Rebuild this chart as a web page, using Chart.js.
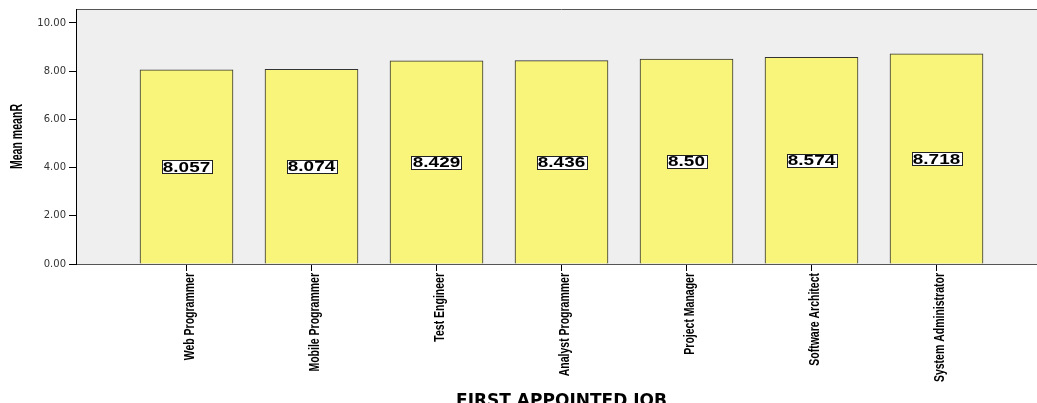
<!DOCTYPE html>
<html>
<head>
<meta charset="utf-8">
<script src="https://cdn.jsdelivr.net/npm/chart.js@4"></script>
<style>
  html, body { margin: 0; padding: 0; background: #fff; overflow: hidden; }
  canvas { display: block; }
</style>
</head>
<body>
<canvas id="mean-chart" width="1050" height="410"></canvas>
<script>
const jobs = ['Web Programmer', 'Mobile Programmer', 'Test Engineer', 'Analyst Programmer',
    'Project Manager', 'Software Architect', 'System Administrator'];
const meanR = [8.057, 8.074, 8.429, 8.436, 8.50, 8.574, 8.718];
const meanLabels = ['8.057', '8.074', '8.429', '8.436', '8.50', '8.574', '8.718'];
const yTicks = [0, 2, 4, 6, 8, 10];
const yTitle = 'Mean meanR';

const family = '"Liberation Sans", Arial, sans-serif';

// grey plot background plus the thin frame line on top
const plotBackground = {
    id: 'plotBackground',
    beforeDraw(chart) {
        const { ctx, chartArea: a } = chart;
        ctx.save();
        ctx.fillStyle = '#efefef';
        ctx.fillRect(a.left, a.top, a.right - a.left, a.bottom - a.top);
        ctx.strokeStyle = '#555';
        ctx.lineWidth = 1;
        ctx.beginPath();
        ctx.moveTo(a.left, a.top + 0.5);
        ctx.lineTo(a.right, a.top + 0.5);
        ctx.stroke();
        ctx.restore();
    }
};

// boxed value labels in the middle of each bar
const boxedLabels = {
    id: 'boxedLabels',
    afterDatasetsDraw(chart) {
        const { ctx } = chart;
        const meta = chart.getDatasetMeta(0);
        const stretch = 1.35;
        ctx.save();
        ctx.font = 'bold 14px ' + family;
        meta.data.forEach((bar, i) => {
            const text = meanLabels[i];
            const cx = bar.x;
            const cy = (bar.y + bar.base) / 2;
            const w = Math.round(ctx.measureText(text).width * stretch) + 3, h = 13;
            const left = Math.round(cx - w / 2) + 0.5;
            const top = Math.round(cy - h / 2) + 0.5;
            ctx.fillStyle = '#fff';
            ctx.fillRect(left, top, w, h);
            ctx.strokeStyle = '#222';
            ctx.lineWidth = 1;
            ctx.strokeRect(left, top, w, h);
            ctx.save();
            ctx.translate(cx, cy + 1);
            ctx.scale(stretch, 1);
            ctx.fillStyle = '#000';
            ctx.textAlign = 'center';
            ctx.textBaseline = 'middle';
            ctx.fillText(text, 0, 0);
            ctx.restore();
        });
        ctx.restore();
    }
};

// narrow rotated texts (category names and y title), SPSS look
const narrowTexts = {
    id: 'narrowTexts',
    afterDraw(chart) {
        const { ctx, chartArea: a } = chart;
        const xScale = chart.scales.x;
        ctx.save();
        ctx.fillStyle = '#000';
        ctx.textBaseline = 'middle';
        ctx.font = 'bold 15px ' + family;
        jobs.forEach((job, i) => {
            ctx.save();
            ctx.translate(xScale.getPixelForValue(i) + 3, a.bottom + 9);
            ctx.rotate(-Math.PI / 2);
            ctx.scale(0.7, 1);
            ctx.textAlign = 'right';
            ctx.fillText(job, 0, 0);
            ctx.restore();
        });
        ctx.font = 'bold 16px ' + family;
        ctx.save();
        ctx.translate(18, (a.top + a.bottom) / 2);
        ctx.rotate(-Math.PI / 2);
        ctx.scale(0.66, 1);
        ctx.textAlign = 'center';
        ctx.fillText(yTitle, 0, 0);
        ctx.restore();
        ctx.restore();
    }
};

new Chart(document.getElementById('mean-chart'), {
    type: 'bar',
    data: {
        datasets: [{
            data: meanR.map((v, i) => ({ x: i, y: v })),
            backgroundColor: '#f9f47a',
            borderColor: '#333',
            borderWidth: 1,
            barThickness: 93,
            grouped: false
        }]
    },
    options: {
        responsive: false,
        animation: false,
        devicePixelRatio: 1,
        layout: { padding: { top: 8, right: 3, bottom: 0, left: 0 } },
        plugins: {
            legend: { display: false },
            tooltip: { enabled: false }
        },
        scales: {
            x: {
                type: 'linear',
                offset: false,
                min: -0.884,
                max: 6.884,
                afterBuildTicks: scale => { scale.ticks = jobs.map((_, i) => ({ value: i })); },
                afterFit: scale => { scale.height = 146; },
                grid: { offset: false, drawOnChartArea: false, drawTicks: true, tickLength: 7, color: '#000' },
                border: { display: true, color: '#555' },
                ticks: { display: false },
                title: {
                    display: true,
                    text: 'FIRST APPOINTED JOB',
                    color: '#000',
                    font: { family: "'DejaVu Sans', sans-serif", size: 17, weight: 'bold' },
                    padding: { top: 0, bottom: -2 }
                }
            },
            y: {
                min: 0,
                max: 10.58,
                afterBuildTicks: scale => { scale.ticks = yTicks.map(v => ({ value: v })); },
                afterFit: scale => { scale.width = 76; },
                grid: { drawOnChartArea: false, drawTicks: true, tickLength: 7, color: '#000' },
                border: { display: true, color: '#000' },
                ticks: {
                    padding: 3,
                    color: '#333',
                    font: { family: "'DejaVu Sans', sans-serif", size: 10 },
                    callback: value => value.toFixed(2)
                },
                title: { display: false }
            }
        }
    },
    plugins: [plotBackground, boxedLabels, narrowTexts]
});
</script>
</body>
</html>
